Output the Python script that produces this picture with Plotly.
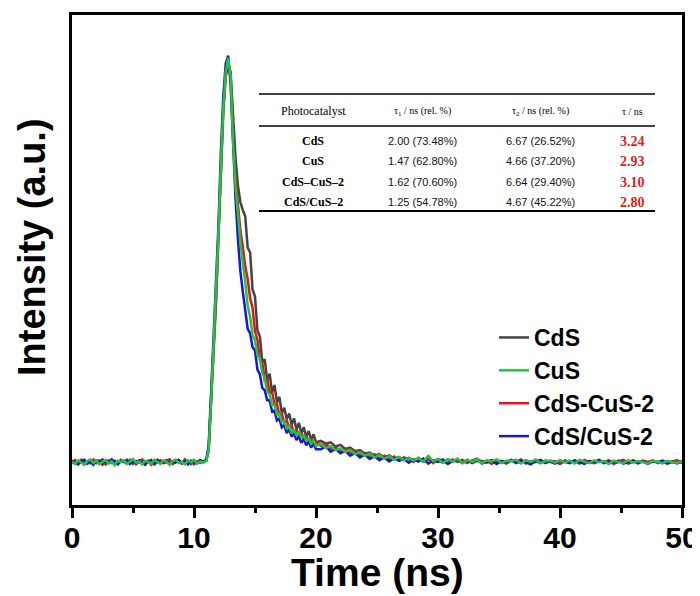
import numpy as np
import plotly.graph_objects as go

# ---------------- time grid (ns) ----------------
t_base = np.round(np.arange(0.0, 11.0001, 0.25), 2)      # 45
t_peak = np.round(np.arange(11.2, 14.0001, 0.2), 2)      # 15
t_decay = np.round(np.arange(14.2, 20.0001, 0.2), 2)     # 30
t_tail = np.round(np.arange(20.4, 50.0001, 0.4), 2)      # 75
time_ns = np.concatenate([t_base, t_peak, t_decay, t_tail])

# ---------------- intensities (% of peak) ----------------
cds_base = [0.1, 0.4, -0.3, 0.2, 0.6, -0.4, 0.0, 0.5, -0.2, 0.3,
            0.7, -0.5, 0.2, 0.0, 0.4, -0.3, 0.5, 0.1, -0.1, 0.6,
            -0.4, 0.3, 0.0, 0.5, -0.2, 0.2, 0.6, -0.5, 0.1, 0.4,
            -0.1, 0.3, 0.7, -0.3, 0.0, 0.5, -0.2, 0.2, 0.4, -0.4,
            0.3, 0.1, -0.1, 0.2, 0.5]
cds_peak = [3, 14, 27, 39, 55, 72, 86, 95, 98, 96, 84, 75, 68, 64, 62]
cds_decay = [60.5, 52.8, 51.6, 42.5, 40.8, 32.4, 30.9, 24.6, 25.3, 20.1,
             21.8, 17.2, 19.0, 14.7, 16.1, 12.0, 13.4, 10.6, 12.0, 9.3,
             10.8, 8.1, 9.7, 7.1, 8.6, 6.2, 7.7, 5.5, 6.9, 4.9]
cds_tail = [5.3, 4.6, 4.9, 3.9, 4.3, 3.3, 3.6, 2.7, 3.0, 2.1,
            2.4, 1.6, 2.0, 1.2, 1.7, 0.9, 1.3, 0.6, 1.1, 0.4,
            0.9, 0.1, 0.8, 0.3, 0.6, -0.1, 0.7, 0.2, 0.5, 0.0,
            0.6, -0.2, 0.4, 0.3, -0.1, 0.5, 0.1, 0.3, -0.3, 0.4,
            0.2, -0.1, 0.5, 0.0, 0.3, -0.2, 0.4, 0.1, 0.2, -0.3,
            0.3, 0.0, 0.4, -0.2, 0.1, 0.3, -0.1, 0.2, 0.0, 0.4,
            -0.2, 0.1, 0.3, -0.3, 0.2, 0.0, 0.3, -0.1, 0.2, 0.1,
            -0.2, 0.3, 0.0, 0.2, -0.1]

cus_base = [0.2, -0.4, 0.5, 0.0, -0.6, 0.3, 0.7, -0.2, 0.4, -0.5,
            0.1, 0.6, -0.3, 0.2, -0.7, 0.4, 0.0, 0.5, -0.4, 0.3,
            0.8, -0.1, 0.2, -0.5, 0.4, 0.1, -0.3, 0.6, 0.0, -0.4,
            0.5, 0.2, -0.6, 0.3, 0.7, -0.2, 0.1, -0.5, 0.4, 0.0,
            0.6, -0.3, 0.2, -0.1, 0.3]
cus_peak = [3, 15, 28, 40, 56, 73, 87, 96, 99.5, 95, 79, 68, 60, 54, 49]
cus_decay = [44.5, 38.5, 35.8, 31.2, 30.1, 26.3, 25.6, 21.9, 20.6, 17.4,
             16.7, 14.1, 14.2, 11.8, 12.0, 9.9, 10.1, 8.2, 8.9, 7.2,
             8.1, 6.6, 7.6, 6.0, 6.8, 5.2, 6.0, 4.6, 5.3, 4.0]
cus_tail = [4.6, 3.5, 4.0, 3.0, 3.4, 2.6, 3.1, 2.0, 2.5, 1.6,
            2.1, 1.2, 1.8, 0.9, 1.5, 0.6, 1.3, 0.5, 1.1, 0.4,
            1.0, 0.2, 1.6, 0.3, 0.8, -0.1, 0.7, 0.2, 0.9, -0.2,
            0.6, 0.1, 0.8, -0.3, 0.5, 0.2, 0.7, -0.2, 0.4, 0.3,
            0.6, -0.3, 0.5, 0.1, 0.7, -0.2, 0.3, 0.4, -0.1, 0.5,
            0.0, 0.4, -0.3, 0.6, 0.1, -0.2, 0.5, 0.0, 0.3, -0.4,
            0.4, 0.1, -0.2, 0.5, -0.1, 0.3, 0.0, -0.3, 0.4, 0.1,
            -0.2, 0.3, 0.0, -0.1, 0.2]

cdscus_base = [-0.3, 0.5, -0.1, 0.6, -0.5, 0.2, -0.2, 0.7, 0.0, 0.4,
               -0.6, 0.3, 0.5, -0.2, 0.1, -0.4, 0.6, 0.2, -0.3, 0.0,
               0.5, -0.5, 0.3, 0.7, -0.1, 0.2, -0.6, 0.4, 0.1, 0.5,
               -0.2, 0.0, 0.6, -0.4, 0.2, 0.4, -0.3, 0.7, -0.1, 0.3,
               -0.5, 0.2, 0.5, 0.0, 0.4]
cdscus_peak = [3, 15, 28, 40, 56, 73, 87, 95, 98, 95, 80, 70, 63, 57, 53]
cdscus_decay = [48.2, 45.1, 40.3, 38.0, 32.2, 30.1, 25.2, 24.6, 20.1, 20.5,
                17.1, 17.4, 14.2, 14.4, 11.5, 12.0, 9.6, 10.4, 8.4, 9.1,
                7.3, 8.1, 6.4, 7.3, 5.6, 6.5, 4.8, 5.8, 4.2, 5.2]
cdscus_tail = [4.0, 4.7, 3.3, 3.8, 2.7, 3.3, 2.2, 2.8, 1.7, 2.3,
               1.3, 2.0, 0.9, 1.6, 0.7, 1.4, 0.4, 1.2, 0.8, 0.1,
               1.1, 0.3, 0.9, -0.2, 0.8, 0.4, -0.3, 0.7, 0.1, 0.6,
               -0.2, 0.5, 0.9, 0.0, 0.4, -0.4, 0.6, 0.2, -0.1, 0.5,
               0.1, 0.7, -0.3, 0.3, 0.0, 0.6, -0.2, 0.4, 0.2, -0.4,
               0.5, 0.1, 0.3, -0.3, 0.6, 0.0, -0.2, 0.4, 0.1, 0.5,
               -0.4, 0.2, 0.6, -0.1, 0.3, -0.3, 0.4, 0.1, 0.5, -0.2,
               0.3, -0.4, 0.2, 0.5, 0.0]

het_base = [0.4, 0.0, -0.5, 0.3, 0.6, -0.2, 0.1, -0.6, 0.5, 0.2,
            -0.3, 0.4, -0.1, 0.7, 0.0, -0.5, 0.3, 0.1, 0.6, -0.4,
            0.2, -0.2, 0.5, 0.0, -0.6, 0.4, 0.2, -0.1, 0.6, -0.3,
            0.1, 0.5, -0.4, 0.2, 0.0, 0.6, -0.2, 0.3, -0.5, 0.4,
            0.1, -0.3, 0.5, 0.2, 0.6]
het_peak = [4, 17, 30, 42, 58, 76, 90, 98, 100, 93, 77, 65, 55, 47, 42]
het_decay = [37.6, 32.8, 31.7, 28.3, 27.5, 22.8, 21.6, 18.3, 17.7, 15.3,
             15.2, 12.5, 12.7, 10.3, 10.7, 8.6, 9.2, 7.2, 8.1, 6.3,
             7.1, 5.5, 6.3, 4.8, 5.7, 4.2, 5.1, 3.6, 4.6, 3.2]
het_tail = [3.2, 3.9, 2.6, 3.3, 2.2, 2.8, 1.6, 2.3, 1.2, 1.9,
            0.8, 1.5, 0.5, 1.2, 0.2, 1.0, 0.4, 0.8, -0.1, 0.7,
            0.2, 0.9, -0.3, 0.5, 0.1, 0.7, -0.4, 0.3, 0.6, -0.2,
            0.4, 0.0, 0.7, -0.3, 0.2, 0.5, -0.4, 0.3, 0.1, 0.6,
            -0.2, 0.4, 0.0, -0.5, 0.3, 0.5, -0.1, 0.2, -0.3, 0.4,
            0.1, -0.2, 0.5, 0.0, -0.4, 0.3, 0.1, 0.6, -0.2, 0.2,
            0.0, 0.4, -0.3, 0.1, 0.5, -0.1, 0.2, -0.4, 0.3, 0.0,
            0.4, -0.2, 0.1, -0.3, 0.3]

series = {
    "CdS": cds_base + cds_peak + cds_decay + cds_tail,
    "CuS": cus_base + cus_peak + cus_decay + cus_tail,
    "CdS-CuS-2": cdscus_base + cdscus_peak + cdscus_decay + cdscus_tail,
    "CdS/CuS-2": het_base + het_peak + het_decay + het_tail,
}
for k, v in series.items():
    assert len(v) == len(time_ns), (k, len(v), len(time_ns))

colors = {"CdS": "#444444", "CuS": "#22c43c", "CdS-CuS-2": "#e4141c", "CdS/CuS-2": "#1616d8"}
legend_rank = {"CdS": 1, "CuS": 2, "CdS-CuS-2": 3, "CdS/CuS-2": 4}
draw_order = ["CdS", "CdS-CuS-2", "CdS/CuS-2", "CuS"]

# ---------------- inset table ----------------
tbl_header = ["Photocatalyst", "τ<sub>1</sub> / ns (rel. %)", "τ<sub>2</sub> / ns (rel. %)", "τ / ns"]
tbl_names = ["CdS", "CuS", "CdS–CuS–2", "CdS/CuS–2"]
tbl_tau1 = ["2.00 (73.48%)", "1.47 (62.80%)", "1.62 (70.60%)", "1.25 (54.78%)"]
tbl_tau2 = ["6.67 (26.52%)", "4.66 (37.20%)", "6.64 (29.40%)", "4.67 (45.22%)"]
tbl_tau = ["3.24", "2.93", "3.10", "2.80"]

fig = go.Figure()
for name in draw_order:
    fig.add_trace(go.Scatter(
        x=time_ns, y=series[name], mode="lines", name=name,
        line=dict(color=colors[name], width=2.5),
        legendrank=legend_rank[name],
    ))

# The page body adds an 8px margin at top/left, so the figure is offset by OFF
# and all positions below are given in screenshot pixels.
OFF = 8
W, H = 700, 596 - OFF
L, R, T, B = 72 - OFF, 682 - OFF, 15 - OFF, 505 - OFF   # plot area (figure px)

def px(xs):
    return (xs - OFF - L) / (R - L)
def py(ys):
    return (B - (ys - OFF)) / (B - T)

ann = []
col_x = [313, 423, 540, 632]
hdr_y = 111
row_y = [141, 161, 182, 202]
serif = "Liberation Serif, Times New Roman, serif"
sans = "Liberation Sans, Arial, sans-serif"
bold_sans = "Arial, Liberation Sans, sans-serif"

def add_text(xs, ys, text, font, angle=0):
    ann.append(dict(x=px(xs), y=py(ys), text=text, showarrow=False,
                    xref="paper", yref="paper", xanchor="center", yanchor="middle",
                    textangle=angle, font=font))

for i, h in enumerate(tbl_header):
    add_text(col_x[i], hdr_y, h, dict(family=serif, size=12 if i == 0 else 10, color="black"))
for r in range(4):
    add_text(col_x[0], row_y[r], tbl_names[r],
             dict(family=serif, size=12, color="black", weight="bold"))
    add_text(col_x[1], row_y[r], tbl_tau1[r], dict(family=sans, size=11, color="#111111"))
    add_text(col_x[2], row_y[r], tbl_tau2[r], dict(family=sans, size=11, color="#111111"))
    add_text(col_x[3], row_y[r], tbl_tau[r],
             dict(family=serif, size=14, color="#d81e1e", weight="bold"))

# axis titles as annotations (exact placement)
add_text(32, 247, "Intensity (a.u.)", dict(family=bold_sans, size=38, color="black", weight="bold"), angle=-90)
add_text(377, 572, "Time (ns)", dict(family=bold_sans, size=39, color="black", weight="bold"))

shapes = []
for ys, w in [(94, 1.5), (126, 1.3), (211, 2.2)]:
    shapes.append(dict(type="line", xref="paper", yref="paper",
                       x0=px(259), x1=px(655), y0=py(ys), y1=py(ys),
                       line=dict(color="black", width=w)))

fig.update_layout(
    width=W, height=H,
    margin=dict(l=L, r=W - R, t=T, b=H - B, autoexpand=False),
    paper_bgcolor="white", plot_bgcolor="white",
    showlegend=True,
    legend=dict(x=px(494), y=py(316), xanchor="left", yanchor="top",
                bgcolor="rgba(0,0,0,0)", borderwidth=0,
                font=dict(family=bold_sans, size=23, color="black", weight="bold"),
                tracegroupgap=0),
    annotations=ann, shapes=shapes,
    xaxis=dict(range=[0, 50], dtick=10, tick0=0, automargin=False,
               showline=True, mirror=True, linecolor="black", linewidth=2.5,
               ticks="outside", ticklen=10, tickwidth=2.5, tickcolor="black",
               minor=dict(dtick=5, tick0=0, ticks="outside", ticklen=5,
                          tickwidth=2.5, tickcolor="black"),
               showgrid=False, zeroline=False, ticklabeloverflow="allow",
               ticklabelstandoff=-6,
               tickfont=dict(family=bold_sans, size=30, color="black", weight="bold")),
    yaxis=dict(range=[-10.5, 110], showticklabels=False, ticks="", automargin=False,
               showline=True, mirror=True, linecolor="black", linewidth=2.5,
               showgrid=False, zeroline=False),
)

fig.write_html("out.html")
